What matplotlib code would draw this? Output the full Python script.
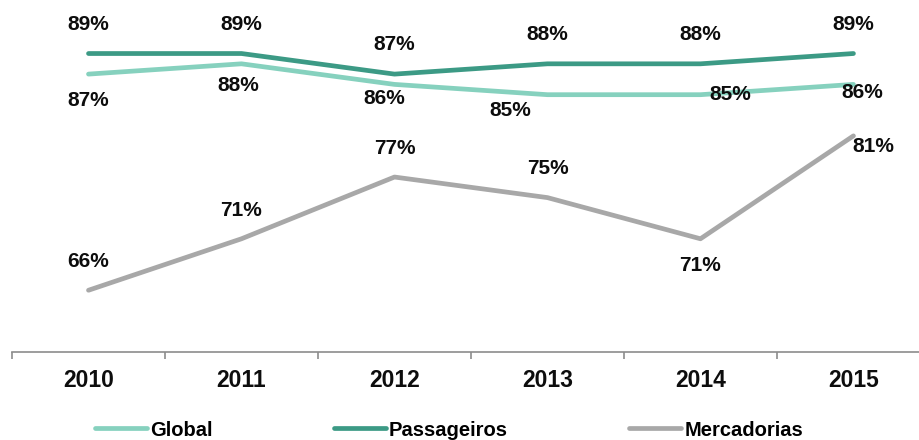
import matplotlib.pyplot as plt
from matplotlib.ticker import FixedLocator

# data
years = ["2010", "2011", "2012", "2013", "2014", "2015"]
global_vals = [87, 88, 86, 85, 85, 86]
passageiros = [89, 89, 87, 88, 88, 89]
mercadorias = [66, 71, 77, 75, 71, 81]

# label offsets in pixels (dx, dy), y up
off_pass = [(0, 29), (0, 29), (0, 30), (0, 29), (0, 29), (0, 29)]
off_glob = [(0, -26), (-3, -22), (-10, -14), (-37, -16), (30, 0), (9, -8)]
off_merc = [(0, 29), (0, 28), (0, 29), (0, 29), (0, -27), (20, -11)]

plt.rcParams['font.family'] = ['Liberation Sans', 'DejaVu Sans']

fig = plt.figure(figsize=(9.2, 4.4), dpi=100)
ax = fig.add_axes([12 / 920, 0.2, 1 - 12 / 920, 0.8])

x = list(range(len(years)))
c_glob = "#86d1be"
c_pass = "#3c9a85"
c_merc = "#a8a8a8"

ax.plot(x, global_vals, color=c_glob, lw=3.4, solid_capstyle='round', label="Global", clip_on=False)
ax.plot(x, passageiros, color=c_pass, lw=3.4, solid_capstyle='round', label="Passageiros", clip_on=False)
ax.plot(x, mercadorias, color=c_merc, lw=3.4, solid_capstyle='round', label="Mercadorias", clip_on=False)

for vals, offs in [(passageiros, off_pass), (global_vals, off_glob), (mercadorias, off_merc)]:
    for i, (v, o) in enumerate(zip(vals, offs)):
        ax.annotate(f"{v}%", (i, v), xytext=o, textcoords='offset pixels',
                    ha='center', va='center', fontsize=15, fontweight='bold', color='#0d0d0d')

ax.set_xlim(-0.5, 5.435)
ax.set_ylim(60, 94.2)
ax.set_yticks([])
for s in ['top', 'right', 'left']:
    ax.spines[s].set_visible(False)
ax.spines['bottom'].set_color('#8c8c8c')
ax.spines['bottom'].set_linewidth(1.2)

ax.set_xticks(x)
ax.set_xticklabels(years, fontsize=16.5, fontweight='bold', color='#0d0d0d')
ax.tick_params(axis='x', which='major', length=0, pad=12)
ax.xaxis.set_minor_locator(FixedLocator([i - 0.5 for i in range(6)]))
ax.tick_params(axis='x', which='minor', length=5, width=1.2, color='#8c8c8c', direction='out')

leg = fig.legend(loc='center', bbox_to_anchor=(449 / 920, 10 / 440), ncol=3, frameon=False,
                 handlelength=2.6, handletextpad=0.15, columnspacing=6.0,
                 prop={'weight': 'bold', 'size': 14.5})

fig.savefig("out.png", dpi=100)
